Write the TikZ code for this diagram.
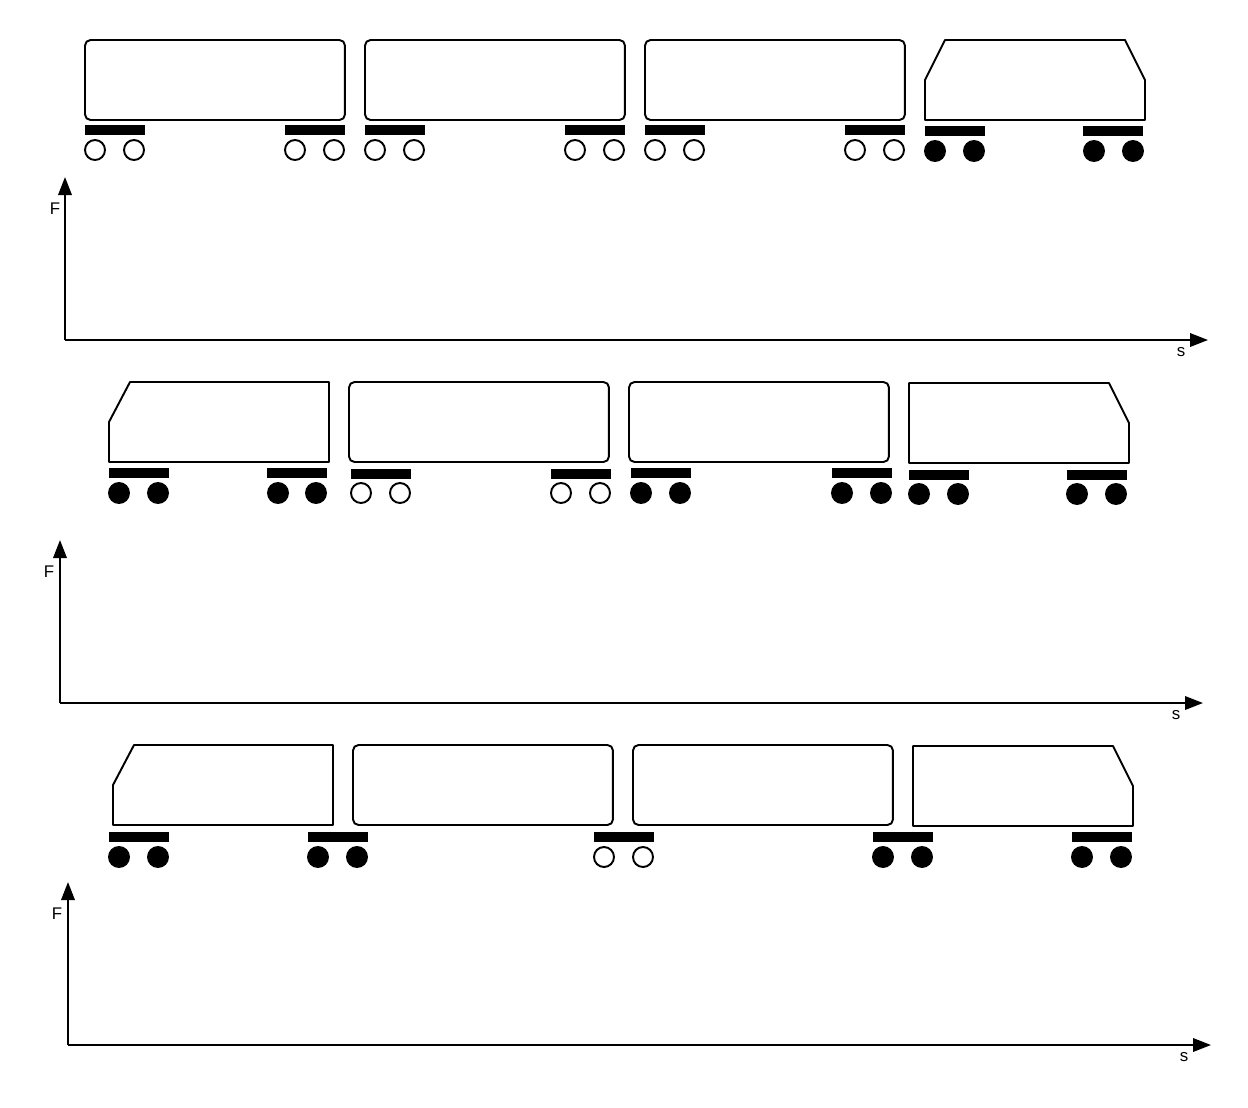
\documentclass[tikz,border=0pt]{standalone}
\usepackage{fontspec}
\setmainfont{Liberation Sans}
\usetikzlibrary{positioning,arrows.meta}

\begin{document}
\begin{tikzpicture}[
                x=0.02cm, y=-0.02cm,
                % Style of the bodies
                wagon/.style={rectangle, draw=black, line width=1.1pt, rounded corners=0.11cm, minimum width=5.2cm, minimum height=1.6cm, inner sep=0pt, outer sep=0pt, anchor=north west},
                cabin/.style={draw=black, line width=1.1pt, line join=round},
                % Style of the running gear
                bogie/.style={rectangle, fill=black, minimum width=1.2cm, minimum height=0.2cm, inner sep=0pt, outer sep=0pt, anchor=north west},
                openwheel/.style={circle, draw=black, fill=white, line width=1.1pt, minimum size=0.4cm, inner sep=0pt},
                solidwheel/.style={circle, draw=black, fill=black, line width=1.1pt, minimum size=0.4cm, inner sep=0pt},
                % Style of the axes
                axisline/.style={-{Triangle[length=0.36cm,width=0.27cm]}, draw=black, line width=1.1pt, shorten >=0pt},
                axislabel/.style={text=black, font=\fontsize{9.6}{11}\selectfont, inner sep=0pt}
            ]
                \useasboundingbox (0,0) rectangle (1248,1107);

                % --- TRAIN 1 ---
                \node[wagon] (wagonA1) at (85,40) {};
                \node[wagon] (wagonA2) at (365,40) {};
                \node[wagon] (wagonA3) at (645,40) {};
                \draw[cabin] (925,120) -- (925,80) -- (945,40) -- (1125,40) -- (1145,80) -- (1145,120) -- cycle;

                \foreach \px/\py in {85/125,285/125,365/125,565/125,645/125,845/125,925/126,1083/126}
                    \node[bogie] (barA\px) at (\px,\py) {};
                \foreach \px in {95,134,295,334,375,414,575,614,655,694,855,894}
                    \node[openwheel] (wheelA\px) at (\px,150) {};
                \foreach \px in {935,974,1094,1133}
                    \node[solidwheel] (wheelA\px) at (\px,151) {};

                % Axes 1
                \coordinate (originA) at (65,340);
                \coordinate (topA) at (65,177);
                \coordinate (endA) at (1208,340);
                \draw[axisline] (originA) -- (topA);
                \draw[axisline] (originA) -- (endA);
                \node[axislabel] (forceA) at (55,209) {F};
                \node[axislabel] (distA) at (1181,352) {s};

                % --- TRAIN 2 ---
                \draw[cabin] (109,462) -- (109,422) -- (130,382) -- (329,382) -- (329,462) -- cycle;
                \node[wagon] (wagonB1) at (349,382) {};
                \node[wagon] (wagonB2) at (629,382) {};
                \draw[cabin] (909,463) -- (909,383) -- (1109,383) -- (1129,423) -- (1129,463) -- cycle;

                \foreach \px/\py in {109/468,267/468,351/469,551/469,631/468,832/468,909/470,1067/470}
                    \node[bogie] (barB\px) at (\px,\py) {};
                \foreach \px in {361,400,561,600}
                    \node[openwheel] (wheelB\px) at (\px,493) {};
                \foreach \px/\py in {119/493,158/493,278/493,316/493,641/493,680/493,842/493,881/493,919/494,958/494,1077/494,1116/494}
                    \node[solidwheel] (wheelB\px) at (\px,\py) {};

                % Axes 2
                \coordinate (originB) at (60,703);
                \coordinate (topB) at (60,540);
                \coordinate (endB) at (1203,703);
                \draw[axisline] (originB) -- (topB);
                \draw[axisline] (originB) -- (endB);
                \node[axislabel] (forceB) at (49,572) {F};
                \node[axislabel] (distB) at (1176,715) {s};

                % --- TRAIN 3 ---
                \draw[cabin] (113,825) -- (113,785) -- (134,745) -- (333,745) -- (333,825) -- cycle;
                \node[wagon] (wagonC1) at (353,745) {};
                \node[wagon] (wagonC2) at (633,745) {};
                \draw[cabin] (913,826) -- (913,746) -- (1113,746) -- (1133,786) -- (1133,826) -- cycle;

                \foreach \px in {109,308,594,873,1072}
                    \node[bogie] (barC\px) at (\px,832) {};
                \foreach \px in {604,643}
                    \node[openwheel] (wheelC\px) at (\px,857) {};
                \foreach \px in {119,158,318,357,883,922,1082,1121}
                    \node[solidwheel] (wheelC\px) at (\px,857) {};

                % Axes 3
                \coordinate (originC) at (68,1045);
                \coordinate (topC) at (68,882);
                \coordinate (endC) at (1211,1045);
                \draw[axisline] (originC) -- (topC);
                \draw[axisline] (originC) -- (endC);
                \node[axislabel] (forceC) at (57,914) {F};
                \node[axislabel] (distC) at (1184,1057) {s};

            \end{tikzpicture}
\end{document}
